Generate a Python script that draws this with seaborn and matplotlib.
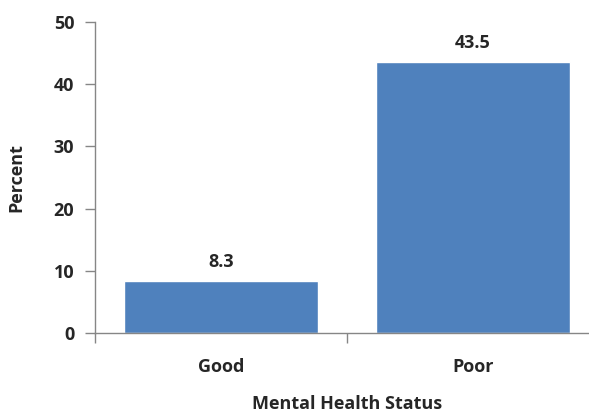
import pandas as pd
import seaborn as sns
import matplotlib.pyplot as plt

categories = ["Good", "Poor"]
percent = [8.3, 43.5]

sns.set_style("white")
plt.rcParams["font.family"] = ["Open Sans", "DejaVu Sans"]
plt.rcParams["font.weight"] = "bold"

df = pd.DataFrame({"Mental Health Status": categories, "Percent": percent})

fig = plt.figure(figsize=(5.89, 4.16), dpi=100)
ax = fig.add_axes([95 / 589, 83 / 416, 504 / 589, 311 / 416])

sns.barplot(data=df, x="Mental Health Status", y="Percent", color="#4F81BD",
            saturation=1, width=0.77, ax=ax)

for i, v in enumerate(percent):
    ax.text(i, v + 1.6, f"{v}", ha="center", va="bottom", fontsize=13, fontweight="bold")

ax.set_xlim(-0.5, 1.5)
ax.set_ylim(0, 50)
ax.set_yticks([0, 10, 20, 30, 40, 50])
ax.set_xticks([-0.5, 0.5, 1.5], minor=False)
ax.set_xticks([0, 1], minor=True)
ax.set_xticklabels(["", "", ""])
ax.set_xticklabels(categories, minor=True)
ax.tick_params(bottom=True, left=True)
ax.tick_params(axis="x", which="minor", bottom=False, length=0, pad=18, labelsize=13)
ax.tick_params(axis="x", which="major", length=7, width=1, color="#868686", direction="out")
ax.tick_params(axis="y", length=7, width=1, color="#868686", direction="out", pad=8, labelsize=13)

for side in ["top", "right"]:
    ax.spines[side].set_visible(False)
for side in ["left", "bottom"]:
    ax.spines[side].set_color("#868686")
    ax.spines[side].set_linewidth(1)

ax.set_xlabel("Mental Health Status", fontsize=13, fontweight="bold", labelpad=14)
ax.set_ylabel("Percent", fontsize=13, fontweight="bold", labelpad=20)

fig.savefig("out.png", dpi=100)
